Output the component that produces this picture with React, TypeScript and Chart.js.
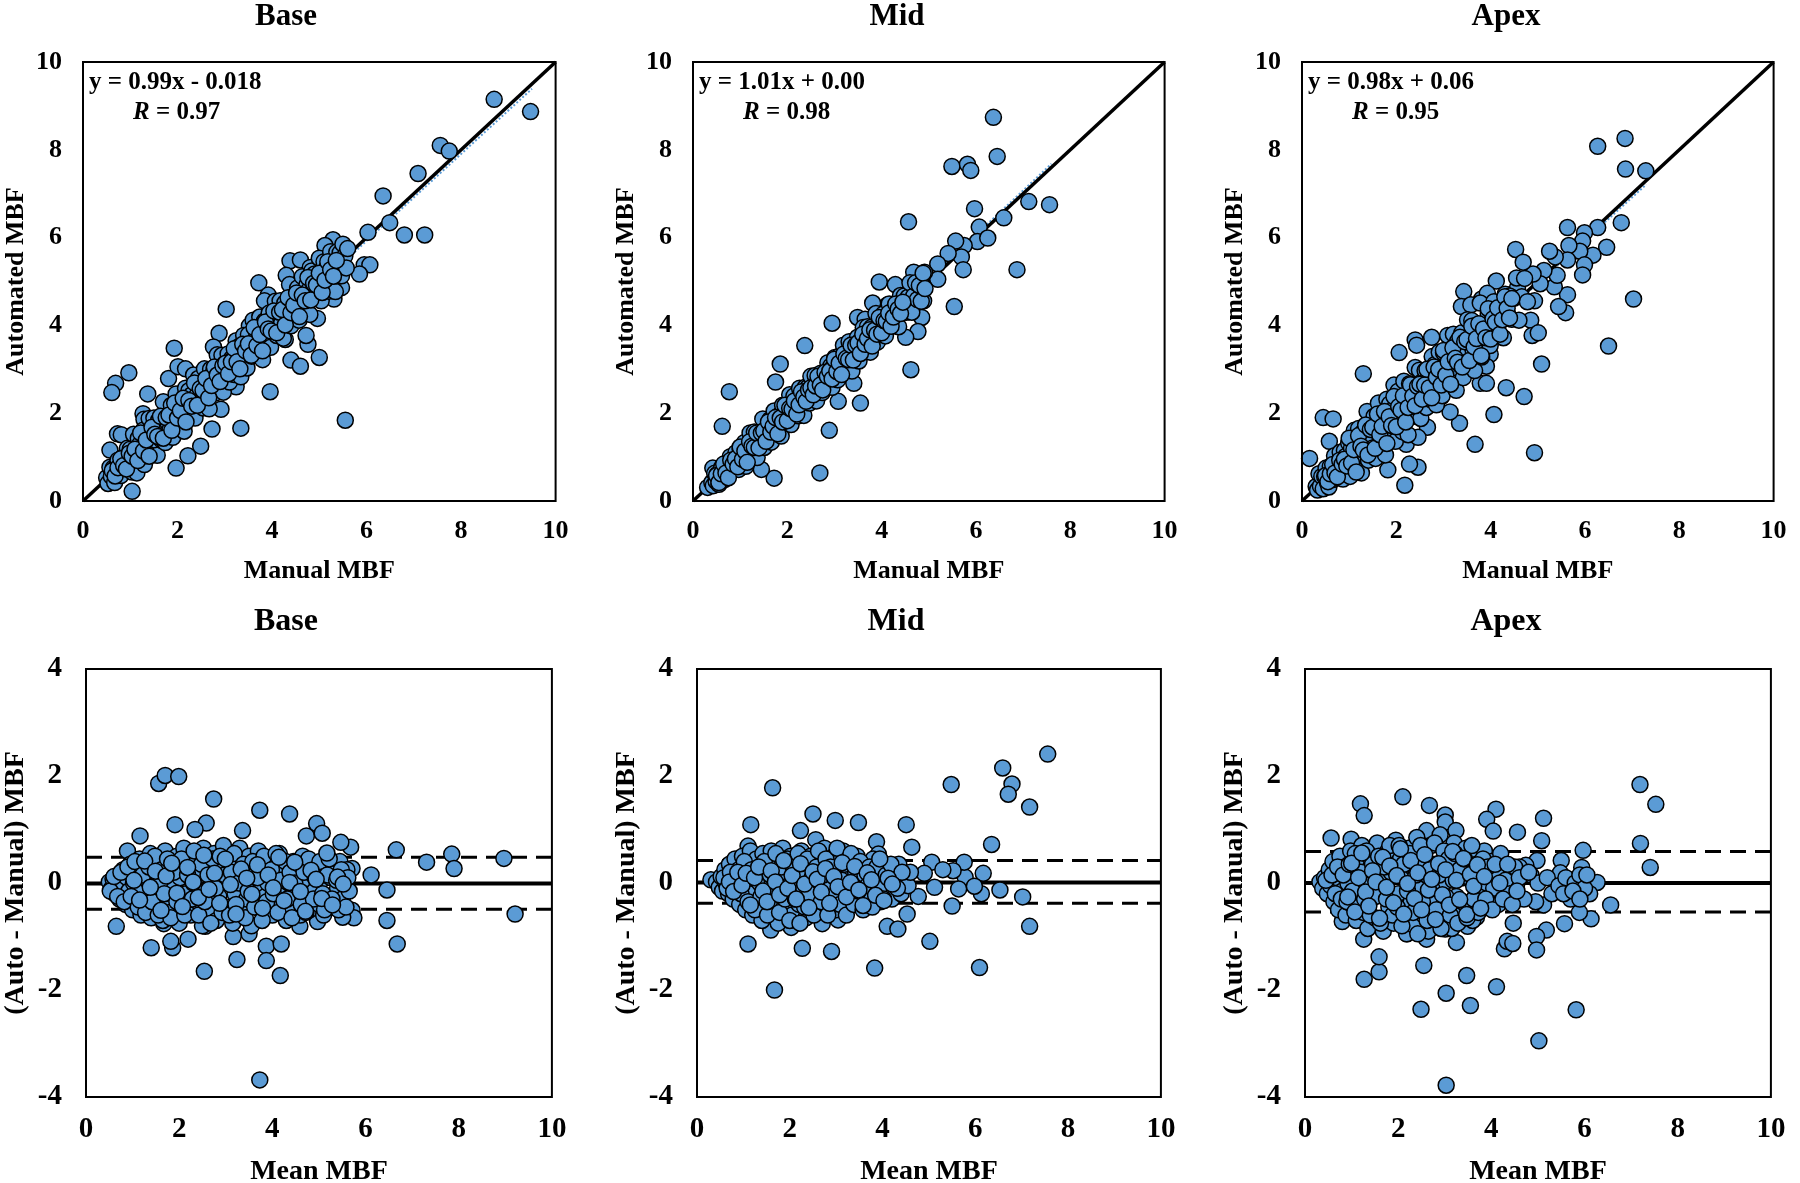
import React, { useEffect, useRef } from "react";
import { Chart, registerables } from "chart.js";

Chart.register(...registerables);

type P = [number, number];

const FONT = "'Liberation Serif', 'Times New Roman', Times, serif";
const BLUE = "#5B9BD5";

// ---------------- scatter: Base (Manual, Automated) ----------------
const baseScatter: P[] = [
  [8.7,9.15],[9.47,8.87],[7.56,8.1],[7.75,7.97],[7.09,7.46],[6.35,6.95],[6.49,6.34],[6.8,6.06],[7.23,6.06],[6.03,6.12],
  [5.95,5.38],[6.07,5.38],[5.85,5.17],[5.29,5.95],[5.12,5.82],[5.51,5.73],[4.38,5.47],[4.6,5.49],[4.81,5.32],[4.3,5.14],
  [3.72,4.97],[3.03,4.37],[5.0,3.27],[5.55,1.84],[3.96,2.49],[4.4,3.21],[4.6,3.07],[4.76,3.57],[3.34,1.66],[1.93,3.48],
  [0.97,2.92],[0.69,2.68],[0.61,2.47],[1.37,2.44],[2.88,3.82],[2.76,3.51],[1.97,0.75],[1.04,0.22],[0.57,1.16],[0.73,1.53],
  [0.81,1.51],[1.27,1.99],[1.29,1.86],[2.49,1.25],[2.22,1.03],[2.92,2.09],[2.73,1.64],[1.81,2.79],[2.01,3.06],[2.17,3.01],
  [2.57,2.55],[3.92,4.69],[3.84,4.56],[4.04,4.16],[3.52,3.99],[4.28,3.68],[3.36,3.21],[3.24,2.6],[5.31,4.6],[5.47,4.86],
  [5.39,5.12],[5.04,4.9],[4.96,4.16],[4.72,3.77],
  [0.5,0.53],[0.53,0.4],[0.57,0.77],[0.6,0.56],[0.64,0.75],[0.67,0.42],[0.7,0.77],[0.74,0.93],[0.77,0.67],[0.8,0.58],
  [0.84,0.99],[0.87,0.88],[0.9,0.76],[0.94,1.2],[0.97,0.91],[1.0,1.18],[1.04,0.66],[1.07,1.52],[1.1,1.07],[1.14,0.64],
  [1.17,1.43],[1.2,1.29],[1.24,1.03],[1.27,1.61],[1.3,0.83],[1.34,1.49],[1.37,1.28],[1.4,1.88],[1.44,1.11],[1.47,1.48],
  [1.5,1.89],[1.54,1.38],[1.57,1.04],[1.6,1.84],[1.64,1.71],[1.67,1.38],[1.7,2.26],[1.74,1.33],[1.77,1.88],[1.8,1.78],
  [1.84,1.62],[1.87,2.18],[1.9,1.45],[1.94,2.02],[1.97,2.44],[2.0,1.86],[2.04,1.68],[2.07,2.26],[2.1,2.12],[2.14,1.59],
  [2.17,2.57],[2.2,2.13],[2.24,2.51],[2.27,1.96],[2.3,2.42],[2.34,2.87],[2.37,1.89],[2.4,2.39],[2.44,2.79],[2.47,2.23],
  [2.5,2.66],[2.54,2.12],[2.57,3.01],[2.6,2.49],[2.64,2.7],[2.67,2.1],[2.7,3.0],[2.74,2.56],[2.77,2.98],[2.8,2.46],
  [2.84,3.33],[2.87,2.91],[2.9,2.64],[2.94,3.32],[2.97,2.48],[3.0,3.13],[3.04,2.99],[3.07,3.35],[3.1,2.71],[3.14,3.24],
  [3.17,3.22],[3.2,2.88],[3.24,3.65],[3.27,3.19],[3.3,3.52],[3.34,2.83],[3.37,3.5],[3.4,3.77],[3.44,3.25],[3.47,3.03],
  [3.5,3.79],[3.54,3.56],[3.57,3.3],[3.6,4.12],[3.64,3.52],[3.67,3.85],[3.7,3.32],[3.74,4.19],[3.77,3.74],[3.8,3.22],
  [3.84,4.1],[3.87,3.96],[3.9,3.69],[3.94,4.28],[3.97,3.5],[4.0,4.15],[4.04,3.95],[4.07,4.55],[4.1,3.77],[4.14,4.15],
  [4.17,4.56],[4.2,4.04],[4.24,3.71],[4.27,4.51],[4.3,4.37],[4.34,4.05],[4.37,4.93],[4.4,3.99],[4.44,4.55],[4.47,4.45],
  [4.5,4.28],[4.54,4.85],[4.57,4.12],[4.6,4.68],[4.64,5.11],[4.67,4.53],[4.7,4.34],[4.74,4.93],[4.77,4.79],[4.8,4.25],
  [4.84,5.24],[4.87,4.8],[4.9,5.17],[4.94,4.63],[4.97,5.09],[5.0,5.53],[5.04,4.56],[5.07,5.06],[5.1,5.45],[5.14,4.9],
  [5.17,5.33],[5.2,4.78],[5.24,5.68],[5.27,5.16],[5.3,5.36],[5.34,4.77],[5.37,5.67],[5.4,5.22],[5.44,5.65],[5.47,5.13],
  [5.5,5.85],[5.54,5.58],[5.57,5.31],[5.6,5.75],
  [0.62,0.69],[0.68,0.57],[0.74,0.76],[0.8,0.96],[0.86,0.81],[0.92,0.73],[0.98,1.09],[1.04,1.02],[1.1,1.18],[1.16,0.92],
  [1.22,1.55],[1.28,1.14],[1.34,1.39],[1.4,1.02],[1.46,1.68],[1.52,1.52],[1.58,1.47],[1.64,1.93],[1.7,1.43],[1.76,1.9],
  [1.82,1.96],[1.88,1.61],[1.94,2.23],[2.0,1.89],[2.06,2.06],[2.12,2.34],[2.18,1.8],[2.24,2.29],[2.3,2.16],[2.36,2.69],
  [2.42,2.18],[2.48,2.56],[2.54,2.52],[2.6,2.79],[2.66,2.35],[2.72,2.63],[2.78,3.05],[2.84,2.87],[2.9,2.72],[2.96,3.08],
  [3.02,3.14],[3.08,2.9],[3.14,3.17],[3.2,3.47],[3.26,3.17],[3.32,3.01],[3.38,3.57],[3.44,3.42],[3.5,3.58],[3.56,3.32],
  [3.62,3.95],[3.68,3.54],[3.74,3.79],[3.8,3.42],[3.86,4.08],[3.92,3.92],[3.98,3.87],[4.04,4.33],[4.1,3.83],[4.16,4.3],
  [4.22,4.36],[4.28,4.01],[4.34,4.63],[4.4,4.29],[4.46,4.46],[4.52,4.74],[4.58,4.2],[4.64,4.69],[4.7,4.56],[4.76,5.09],
  [4.82,4.58],[4.88,4.96],[4.94,4.92],[5.0,5.19],[5.06,4.75],[5.12,5.03],[5.18,5.45],[5.24,5.27],[5.3,5.12],[5.36,5.48],
];

// ---------------- scatter: Mid ----------------
const midScatter: P[] = [
  [6.37,8.74],[6.45,7.85],[5.49,7.62],[5.82,7.67],[5.89,7.53],[5.97,6.66],[4.57,6.36],[7.12,6.82],[7.56,6.75],[6.59,6.45],
  [6.87,5.27],[6.07,6.24],[6.03,5.91],[6.25,5.99],[5.75,5.82],[5.57,5.92],[5.69,5.56],[5.73,5.27],[5.41,5.64],[5.19,5.4],
  [5.19,5.05],[5.54,4.43],[3.95,4.99],[4.29,4.93],[4.91,5.21],[4.68,5.21],[4.75,4.77],[4.89,4.56],[4.85,4.18],[4.77,3.86],
  [4.51,3.73],[4.62,2.99],[2.95,4.05],[2.37,3.54],[1.85,3.12],[1.75,2.71],[0.77,2.49],[0.62,1.7],[2.89,1.61],[2.69,0.64],
  [1.72,0.52],[1.45,0.72],[3.55,2.23],[3.41,2.68],[3.08,2.27],[3.49,4.18],[3.65,4.14],[4.13,4.21],[0.31,0.31],[0.99,0.94],
  [0.42,0.75],[4.13,4.47],[3.81,4.51],
  [0.4,0.42],[0.43,0.35],[0.46,0.63],[0.49,0.45],[0.52,0.61],[0.55,0.38],[0.58,0.63],[0.61,0.77],[0.64,0.56],[0.67,0.49],
  [0.7,0.82],[0.73,0.74],[0.76,0.64],[0.79,1.01],[0.82,0.77],[0.85,0.93],[0.88,0.72],[0.91,1.1],[0.94,0.93],[0.97,0.72],
  [1.0,1.18],[1.03,1.09],[1.06,0.91],[1.09,1.33],[1.12,0.79],[1.15,1.26],[1.18,1.12],[1.21,1.55],[1.24,1.01],[1.27,1.28],
  [1.3,1.57],[1.33,1.22],[1.36,0.99],[1.39,1.56],[1.42,1.47],[1.45,1.25],[1.48,1.87],[1.51,1.22],[1.54,1.62],[1.57,1.56],
  [1.6,1.45],[1.63,1.85],[1.66,1.34],[1.69,1.75],[1.72,2.05],[1.75,1.65],[1.78,1.53],[1.81,1.94],[1.84,1.85],[1.87,1.48],
  [1.9,2.18],[1.93,1.88],[1.96,2.15],[1.99,1.77],[2.02,2.1],[2.05,2.42],[2.08,1.74],[2.11,2.1],[2.14,2.39],[2.17,2.0],
  [2.2,2.31],[2.23,1.94],[2.26,2.57],[2.29,2.21],[2.32,2.36],[2.35,1.95],[2.38,2.59],[2.41,2.28],[2.44,2.59],[2.47,2.23],
  [2.5,2.84],[2.53,2.56],[2.56,2.38],[2.59,2.86],[2.62,2.28],[2.65,2.74],[2.68,2.64],[2.71,2.91],[2.74,2.47],[2.77,2.84],
  [2.8,2.84],[2.83,2.61],[2.86,3.15],[2.89,2.83],[2.92,3.07],[2.95,2.59],[2.98,3.07],[3.01,3.27],[3.04,2.91],[3.07,2.76],
  [3.1,3.3],[3.13,3.14],[3.16,2.97],[3.19,3.55],[3.22,3.14],[3.25,3.38],[3.28,3.01],[3.31,3.63],[3.34,3.32],[3.37,2.96],
  [3.4,3.58],[3.43,3.49],[3.46,3.31],[3.49,3.73],[3.52,3.19],[3.55,3.66],[3.58,3.52],[3.61,3.95],[3.64,3.41],[3.67,3.68],
  [3.7,3.97],[3.73,3.62],[3.76,3.39],[3.79,3.96],[3.82,3.87],[3.85,3.65],[3.88,4.27],[3.91,3.62],[3.94,4.02],[3.97,3.96],
  [4.0,3.85],[4.04,4.26],[4.08,3.76],[4.12,4.18],[4.16,4.49],[4.2,4.1],[4.24,3.99],[4.28,4.41],[4.32,4.33],[4.36,3.97],
  [4.4,4.68],[4.44,4.39],[4.48,4.67],[4.52,4.3],[4.56,4.64],[4.6,4.97],[4.64,4.3],[4.68,4.67],[4.72,4.97],[4.76,4.59],
  [4.8,4.91],[4.84,4.55],[4.88,5.19],[4.92,4.84],
  [0.5,0.58],[0.55,0.42],[0.6,0.62],[0.65,0.84],[0.7,0.64],[0.75,0.53],[0.8,0.93],[0.85,0.84],[0.9,0.96],[0.95,0.78],
  [1.0,1.23],[1.05,0.95],[1.1,1.14],[1.15,0.88],[1.2,1.35],[1.25,1.25],[1.3,1.22],[1.35,1.55],[1.4,1.21],[1.45,1.55],
  [1.5,1.6],[1.55,1.36],[1.6,1.8],[1.65,1.57],[1.7,1.7],[1.75,1.9],[1.8,1.53],[1.85,1.89],[1.9,1.8],[1.95,2.18],
  [2.0,1.83],[2.05,2.11],[2.1,2.09],[2.15,2.28],[2.2,1.98],[2.25,2.19],[2.3,2.49],[2.35,2.37],[2.4,2.27],[2.45,2.53],
  [2.5,2.58],[2.55,2.42],[2.6,2.62],[2.65,2.84],[2.7,2.64],[2.75,2.53],[2.8,2.93],[2.85,2.84],[2.9,2.96],[2.95,2.78],
  [3.0,3.23],[3.05,2.95],[3.1,3.14],[3.15,2.88],[3.2,3.35],[3.25,3.25],[3.3,3.22],[3.35,3.55],[3.4,3.21],[3.45,3.55],
  [3.5,3.6],[3.55,3.36],[3.6,3.8],[3.65,3.57],[3.7,3.7],[3.75,3.9],[3.8,3.53],[3.85,3.89],[3.9,3.8],[3.95,4.18],
  [4.0,3.83],[4.05,4.11],[4.1,4.09],[4.15,4.28],[4.2,3.98],[4.25,4.19],[4.3,4.49],[4.35,4.37],[4.4,4.27],[4.45,4.53],
];

// ---------------- scatter: Apex ----------------
const apexScatter: P[] = [
  [6.27,8.08],[6.85,8.26],[6.86,7.56],[7.29,7.52],[6.77,6.34],[7.03,4.6],[6.5,3.53],[6.46,5.78],[6.17,5.6],[6.27,6.23],
  [5.99,6.11],[5.95,5.92],[5.89,5.69],[5.99,5.38],[5.95,5.15],[5.63,6.23],[5.66,5.82],[5.63,5.49],[5.63,4.7],[5.59,4.29],
  [5.44,4.43],[5.37,5.56],[5.25,5.69],[5.35,4.88],[5.41,5.14],[5.13,5.25],[5.05,4.95],[4.9,5.17],[4.53,5.73],[4.69,5.44],
  [4.12,5.01],[4.37,4.69],[4.57,4.86],[4.93,4.56],[4.85,4.12],[4.88,3.77],[5.01,3.83],[5.08,3.12],[4.93,1.1],[4.33,2.58],
  [4.71,2.38],[4.07,1.97],[3.67,1.29],[3.34,1.77],[3.78,2.68],[3.91,2.68],[3.99,3.34],[3.91,3.07],[3.43,4.77],[3.38,4.43],
  [3.58,4.47],[3.81,4.6],[3.93,4.73],[2.75,3.73],[2.4,3.67],[2.43,3.55],[3.14,3.55],[2.06,3.38],[1.3,2.9],[0.45,1.9],
  [0.66,1.87],[0.58,1.36],[0.16,0.97],[2.18,0.36],[2.46,0.77],[2.28,0.84],[1.82,0.71],[3.14,2.03],[2.66,1.68],[2.96,2.38],
  [2.21,1.29],[2.46,1.45],
  [0.3,0.33],[0.33,0.25],[0.36,0.62],[0.39,0.34],[0.42,0.56],[0.45,0.28],[0.48,0.56],[0.51,0.75],[0.54,0.42],[0.57,0.32],
  [0.6,0.79],[0.63,0.65],[0.66,0.49],[0.69,1.03],[0.72,0.64],[0.75,0.87],[0.78,0.53],[0.81,1.11],[0.84,0.82],[0.87,0.5],
  [0.9,1.15],[0.93,1.02],[0.96,0.76],[0.99,1.32],[1.02,0.56],[1.05,1.2],[1.08,0.99],[1.11,1.61],[1.14,0.79],[1.17,1.18],
  [1.2,1.65],[1.23,1.04],[1.26,0.64],[1.29,1.57],[1.32,1.4],[1.35,1.01],[1.38,2.04],[1.41,0.93],[1.44,1.57],[1.47,1.44],
  [1.5,1.21],[1.53,1.93],[1.56,0.97],[1.59,1.69],[1.62,2.23],[1.65,1.47],[1.68,1.21],[1.71,1.96],[1.74,1.77],[1.77,1.05],
  [1.8,2.32],[1.83,1.74],[1.86,2.21],[1.89,1.49],[1.92,2.08],[1.95,2.64],[1.98,1.36],[2.01,2.0],[2.04,2.5],[2.07,1.76],
  [2.1,2.31],[2.13,1.58],[2.16,2.73],[2.19,2.05],[2.22,2.3],[2.25,1.51],[2.28,2.67],[2.31,2.08],[2.34,2.61],[2.37,1.93],
  [2.4,3.04],[2.43,2.48],[2.46,2.12],[2.49,2.98],[2.52,1.88],[2.55,2.72],[2.58,2.51],[2.61,2.97],[2.64,2.13],[2.67,2.8],
  [2.7,2.77],[2.73,2.31],[2.76,3.29],[2.79,2.69],[2.82,3.11],[2.85,2.19],[2.88,3.05],[2.91,3.39],[2.94,2.69],[2.97,2.4],
  [3.0,3.38],[3.03,3.06],[3.06,2.71],[3.09,3.77],[3.12,2.96],[3.15,3.38],[3.18,2.69],[3.21,3.8],[3.24,3.2],[3.27,2.52],
  [3.3,3.64],[3.33,3.45],[3.36,3.09],[3.39,3.83],[3.42,2.81],[3.45,3.65],[3.48,3.36],[3.51,4.13],[3.54,3.11],[3.57,3.58],
  [3.6,4.11],[3.63,3.42],[3.66,2.97],[3.69,4.0],[3.72,3.81],[3.75,3.37],[3.78,4.51],[3.81,3.28],[3.84,3.98],[3.87,3.84],
  [3.91,3.69],[3.95,4.26],[3.99,3.54],[4.03,4.11],[4.07,4.54],[4.11,3.97],[4.15,3.79],[4.19,4.38],[4.23,4.25],[4.27,3.72],
  [4.31,4.71],[4.35,4.28],[4.4,4.67],[4.45,4.14],[4.5,4.62],[4.55,5.08],[4.6,4.12],[4.66,4.65],[4.72,5.07],[4.78,4.54],
  [0.5,0.58],[0.55,0.44],[0.6,0.62],[0.65,0.83],[0.7,0.64],[0.75,0.55],[0.8,0.93],[0.85,0.84],[0.9,0.95],[0.95,0.8],
  [1.0,1.43],[1.05,0.87],[1.1,1.17],[1.15,0.66],[1.2,1.49],[1.25,1.25],[1.3,1.16],[1.35,1.73],[1.4,1.05],[1.45,1.63],
  [1.5,1.68],[1.55,1.2],[1.6,1.98],[1.65,1.51],[1.7,1.7],[1.75,2.04],[1.8,1.31],[1.85,1.92],[1.9,1.72],[1.95,2.38],
  [2.0,1.69],[2.05,2.15],[2.1,2.07],[2.15,2.4],[2.2,1.8],[2.25,2.13],[2.3,2.65],[2.35,2.39],[2.4,2.17],[2.45,2.61],
  [2.5,2.66],[2.55,2.32],[2.6,2.64],[2.65,3.0],[2.7,2.58],[2.75,2.35],[2.8,3.05],[2.85,2.82],[2.9,3.0],[2.95,2.64],
  [3.0,3.43],[3.05,2.87],[3.1,3.17],[3.15,2.66],[3.2,3.49],[3.25,3.25],[3.3,3.16],[3.35,3.73],[3.4,3.05],[3.45,3.63],
  [3.5,3.68],[3.55,3.2],[3.6,3.98],[3.65,3.51],[3.7,3.7],[3.75,4.04],[3.8,3.31],[3.85,3.92],[3.9,3.72],[3.95,4.38],
  [4.0,3.69],[4.05,4.15],[4.1,4.07],[4.15,4.4],[4.2,3.8],[4.25,4.13],[4.3,4.65],[4.35,4.39],[4.4,4.17],[4.45,4.61],
];

// ---------------- Bland-Altman: Base (Mean, Auto - Manual) ----------------
const baseBA: P[] = [
  [1.56,1.86],[1.7,2.01],[1.99,1.99],[2.74,1.57],[3.73,1.36],[4.37,1.29],[1.91,1.09],[2.58,1.12],[2.34,1.0],[3.36,0.98],
  [4.73,0.88],[4.95,1.11],[5.07,0.93],[1.16,0.88],[0.89,0.6],[6.66,0.62],[7.31,0.39],[7.85,0.54],[7.9,0.27],[8.97,0.46],
  [9.21,-0.58],[6.12,0.15],[6.46,-0.13],[6.46,-0.7],[6.68,-1.14],[5.68,0.67],[5.47,0.76],[5.71,0.27],[5.71,-0.51],[5.75,-0.65],
  [5.51,-0.64],[0.65,-0.81],[1.4,-1.21],[1.86,-1.21],[1.82,-1.09],[2.19,-1.05],[3.24,-1.43],[2.54,-1.65],[3.87,-1.18],[3.87,-1.45],
  [4.19,-1.14],[4.17,-1.73],[3.73,-3.68],[3.5,-0.95],[3.16,-1.0],[4.97,-0.72],[4.59,-0.81],[2.56,-0.81],[1.67,-0.76],
  [0.5,0.02],[0.55,-0.1],[0.58,0.08],[0.62,-0.2],[0.65,0.0],[0.7,0.15],[0.72,-0.3],[0.78,-0.05],[0.8,0.25],[0.85,-0.4],
  [0.88,0.1],[0.92,-0.15],[0.95,0.35],[1.0,-0.5],[1.02,0.0],[1.08,0.2],[1.1,-0.3],[1.15,0.45],[1.18,-0.6],[1.2,-0.1],
  [1.25,0.3],[1.3,-0.4],[1.32,0.05],[1.38,0.55],[1.4,-0.65],[1.45,-0.2],[1.5,0.2],[1.52,-0.45],[1.58,0.4],[1.6,0.0],
  [1.65,-0.7],[1.7,0.6],[1.72,-0.3],[1.78,0.15],[1.8,-0.55],[1.85,0.35],[1.9,-0.1],[1.95,0.5],[2.0,-0.75],[2.02,0.1],
  [2.08,-0.4],[2.1,0.65],[2.15,-0.2],[2.2,0.3],[2.25,-0.6],[2.3,0.0],[2.35,0.5],[2.4,-0.35],[2.45,0.2],[2.5,-0.8],
  [2.52,0.65],[2.58,-0.15],[2.6,0.35],[2.65,-0.5],[2.7,0.05],[2.75,0.55],[2.8,-0.7],[2.85,-0.25],[2.9,0.25],[2.95,0.7],
  [3.0,-0.45],[3.05,0.0],[3.1,0.45],[3.15,-0.75],[3.2,-0.2],[3.25,0.3],[3.3,0.65],[3.35,-0.55],[3.4,0.05],[3.45,-0.3],
  [3.5,0.5],[3.55,-0.8],[3.6,0.2],[3.65,-0.1],[3.7,0.6],[3.75,-0.5],[3.8,0.3],[3.85,-0.25],[3.9,0.0],[3.95,0.45],
  [4.0,-0.6],[4.05,0.15],[4.1,-0.35],[4.15,0.55],[4.2,-0.1],[4.25,0.3],[4.3,-0.7],[4.35,0.0],[4.4,-0.45],[4.45,0.4],
  [4.5,-0.2],[4.55,0.15],[4.6,-0.6],[4.65,0.5],[4.7,-0.3],[4.75,0.05],[4.8,-0.5],[4.85,0.35],[4.9,-0.15],[4.95,0.2],
  [5.0,-0.4],[5.05,0.05],[5.1,-0.6],[5.15,0.3],[5.2,-0.25],[5.25,0.1],[5.3,-0.45],[5.35,0.2],[5.4,-0.1],[5.45,0.4],
  [5.5,-0.3],[5.55,0.05],[5.6,0.25],[5.65,-0.15],
  [0.52,-0.15],[0.6,0.12],[0.68,-0.25],[0.75,0.2],[0.82,-0.35],[0.9,0.3],[0.97,-0.25],[1.05,0.4],[1.12,-0.45],[1.22,0.15],
  [1.28,-0.55],[1.35,0.3],[1.42,-0.35],[1.48,0.5],[1.55,-0.6],[1.62,0.25],[1.68,-0.2],[1.75,0.45],[1.82,-0.65],[1.88,0.2],
  [1.95,-0.35],[2.05,0.45],[2.12,-0.6],[2.18,0.15],[2.28,-0.3],[2.32,0.6],[2.42,-0.6],[2.48,0.35],[2.55,-0.35],[2.62,0.15],
  [2.68,-0.75],[2.72,0.45],[2.78,-0.1],[2.88,0.5],[2.92,-0.55],[2.98,0.15],[3.08,-0.6],[3.12,0.2],[3.18,0.55],[3.22,-0.4],
  [3.28,0.0],[3.38,0.35],[3.42,-0.65],[3.48,-0.15],[3.58,0.4],[3.62,-0.45],[3.68,0.1],[3.78,-0.7],[3.82,0.5],[3.88,-0.35],
  [3.98,0.25],[4.02,-0.2],[4.08,0.55],[4.12,-0.55],[4.18,0.05],[4.28,0.4],[4.32,-0.3],[4.38,0.2],[4.42,-0.65],[4.48,0.0],
  [4.58,0.35],[4.62,-0.4],[4.68,0.2],[4.72,-0.55],[4.78,0.45],[4.88,-0.3],[4.92,0.1],[5.02,0.4],[5.08,-0.2],[5.12,-0.5],
  [5.18,0.15],[5.22,0.45],[5.28,-0.3],[5.38,0.05],[5.42,-0.5],[5.48,0.25],[5.58,-0.45],[5.62,0.1],
  [1.03,0.05],[1.15,-0.32],[1.26,0.41],[1.38,-0.08],[1.49,0.22],[1.61,-0.51],[1.72,0.13],[1.84,0.37],[1.95,-0.19],[2.07,-0.44],
  [2.18,0.29],[2.3,0.02],[2.41,-0.27],[2.53,0.52],[2.64,-0.12],[2.76,0.18],[2.87,-0.38],[2.99,0.45],[3.1,-0.03],[3.22,-0.58],
  [3.33,0.26],[3.45,0.09],[3.56,-0.21],[3.68,0.34],[3.79,-0.47],[3.91,0.15],[4.02,-0.09],[4.14,0.48],[4.25,-0.33],[4.37,0.01],
  [4.48,0.39],[4.6,-0.16],[4.71,-0.53],[4.83,0.24],[4.94,0.07],[5.06,-0.29],[5.17,0.56],[5.29,-0.41],[5.4,0.11],[5.52,-0.02],
];

// ---------------- Bland-Altman: Mid ----------------
const midBA: P[] = [
  [7.56,2.41],[6.59,2.15],[6.79,1.85],[6.71,1.66],[7.17,1.42],[5.48,1.84],[1.63,1.78],[2.5,1.29],[2.98,1.17],[3.48,1.13],
  [4.51,1.09],[1.16,1.09],[2.23,0.98],[4.63,0.67],[6.35,0.72],[3.87,0.77],[3.91,0.54],[1.1,0.69],[2.56,0.81],[6.53,-0.13],
  [7.02,-0.26],[7.17,-0.81],[6.17,0.18],[6.13,-0.2],[5.78,0.11],[5.76,0.39],[5.52,0.23],[5.5,-0.43],[5.64,-0.11],[5.98,-0.06],
  [5.02,-1.09],[4.1,-0.81],[4.33,-0.86],[4.53,-0.58],[3.83,-1.59],[6.09,-1.58],[1.67,-2.0],[1.1,-1.14],[2.27,-1.22],[2.9,-1.28],
  [2.7,-0.76],[3.04,-0.69],[2.03,-0.83],[1.59,-0.88],[0.3,0.06],[5.06,0.39],[5.3,0.25],[5.12,-0.08],[4.77,-0.25],[4.9,0.18],
  [0.42,0.02],[0.48,-0.08],[0.52,0.12],[0.55,-0.15],[0.6,0.25],[0.62,0.0],[0.68,-0.2],[0.7,0.35],[0.75,0.1],[0.78,-0.3],
  [0.82,0.45],[0.85,-0.05],[0.9,0.25],[0.92,-0.4],[0.98,0.5],[1.0,0.05],[1.05,-0.5],[1.08,0.3],[1.12,-0.2],[1.15,0.6],
  [1.2,-0.6],[1.22,0.1],[1.28,0.45],[1.3,-0.35],[1.35,0.0],[1.4,-0.7],[1.42,0.55],[1.48,-0.15],[1.5,0.3],[1.55,-0.5],
  [1.6,0.6],[1.62,0.05],[1.68,-0.35],[1.72,0.4],[1.75,-0.75],[1.8,-0.05],[1.85,0.65],[1.88,-0.45],[1.92,0.2],[1.98,-0.2],
  [2.02,0.5],[2.05,-0.6],[2.1,0.05],[2.15,0.35],[2.2,-0.4],[2.25,0.6],[2.3,-0.1],[2.35,-0.65],[2.4,0.25],[2.45,0.5],
  [2.5,-0.3],[2.55,0.05],[2.6,-0.55],[2.65,0.4],[2.7,-0.15],[2.75,0.65],[2.8,-0.4],[2.85,0.15],[2.9,-0.05],[2.95,0.5],
  [3.0,-0.5],[3.05,0.25],[3.1,-0.2],[3.15,0.6],[3.2,-0.45],[3.25,0.1],[3.3,0.4],[3.35,-0.25],[3.4,0.05],[3.45,0.5],
  [3.5,-0.4],[3.55,0.2],[3.6,-0.1],[3.65,0.35],[3.7,-0.3],[3.75,0.1],[3.8,0.45],[3.85,-0.2],[3.9,0.2],[3.95,-0.35],
  [4.0,0.05],[4.05,0.3],[4.1,-0.15],[4.15,0.15],[4.2,-0.3],[4.25,0.25],[4.3,0.0],[4.35,0.35],[4.4,-0.2],[4.45,0.1],
  [4.55,-0.05],[4.6,0.2],
  [0.58,0.1],[0.65,-0.1],[0.72,0.2],[0.8,-0.15],[0.88,0.1],[0.95,-0.2],[1.02,0.4],[1.1,-0.35],[1.18,0.25],[1.25,-0.5],
  [1.32,0.2],[1.38,-0.25],[1.45,0.4],[1.52,-0.6],[1.58,0.15],[1.65,-0.2],[1.7,0.55],[1.78,-0.55],[1.82,0.3],[1.9,-0.3],
  [1.95,0.45],[2.0,-0.7],[2.08,0.25],[2.12,-0.3],[2.18,0.55],[2.22,-0.75],[2.28,0.15],[2.32,-0.45],[2.38,0.45],[2.42,-0.2],
  [2.48,0.1],[2.52,-0.6],[2.58,0.3],[2.62,0.6],[2.68,-0.35],[2.72,0.15],[2.78,0.45],[2.82,-0.6],[2.88,0.3],[2.92,-0.25],
  [2.98,0.1],[3.02,0.65],[3.08,-0.4],[3.12,0.05],[3.18,0.35],[3.22,-0.6],[3.28,-0.1],[3.32,0.55],[3.38,-0.4],[3.42,0.2],
  [3.48,-0.15],[3.52,0.4],[3.58,-0.5],[3.62,0.15],[3.68,-0.05],[3.72,0.3],[3.78,-0.45],[3.88,0.3],[3.92,-0.1],[4.02,-0.3],
  [4.08,0.15],[4.18,0.35],[4.22,0.05],[4.32,-0.1],[4.42,0.2],
  [0.7,0.02],[0.79,-0.16],[0.88,0.2],[0.97,-0.04],[1.06,0.18],[1.15,-0.41],[1.24,0.1],[1.33,0.3],[1.42,-0.15],[1.51,-0.35],
  [1.6,0.23],[1.69,0.02],[1.78,-0.22],[1.87,0.42],[1.96,-0.1],[2.05,0.14],[2.14,-0.3],[2.23,0.36],[2.32,-0.02],[2.41,-0.46],
  [2.5,0.21],[2.59,0.07],[2.68,-0.17],[2.77,0.27],[2.86,-0.38],[2.95,0.12],[3.04,-0.07],[3.13,0.38],[3.22,-0.26],[3.31,0.01],
  [3.4,0.31],[3.49,-0.13],[3.58,-0.42],[3.67,0.19],[3.76,0.06],[3.85,-0.23],[3.94,0.45],[4.03,-0.33],[4.12,0.09],[4.21,-0.02],
];

// ---------------- Bland-Altman: Apex ----------------
const apexBA: P[] = [
  [7.19,1.84],[7.53,1.47],[7.2,0.74],[7.41,0.29],[2.1,1.61],[1.19,1.48],[1.27,1.26],[2.67,1.45],[3.01,1.27],[3.01,1.14],
  [4.1,1.38],[3.9,1.19],[4.04,0.97],[4.56,0.95],[5.12,1.21],[5.08,0.79],[5.97,0.61],[0.56,0.84],[0.99,0.82],[2.61,0.98],
  [3.24,0.98],[6.56,-0.41],[6.14,-0.67],[5.89,-0.55],[6.27,0.01],[6.11,-0.2],[5.57,-0.76],[5.18,-0.88],[4.97,-1.0],[4.97,-1.25],
  [4.28,-1.23],[4.34,-1.09],[4.46,-1.13],[4.47,-0.75],[5.12,-0.41],[1.27,-1.8],[1.59,-1.66],[1.59,-1.38],[1.26,-1.05],[2.55,-1.54],
  [2.49,-2.36],[3.03,-2.06],[3.55,-2.29],[3.47,-1.73],[4.11,-1.94],[5.82,-2.37],[5.02,-2.95],[3.03,-3.78],[3.25,-1.11],[2.61,-1.05],
  [2.19,-0.95],[3.49,-0.81],[3.68,-0.64],[3.01,-0.86],[0.8,-0.72],[5.5,0.42],[5.48,0.19],[5.94,0.29],[4.98,0.42],[4.74,0.33],
  [4.54,-0.04],[4.18,-0.25],
  [4.6,0.3],[4.85,0.15],[5.0,0.0],[5.2,0.1],[5.3,-0.2],[5.45,-0.05],[5.6,0.1],[5.7,-0.3],[5.8,0.0],[5.9,0.15],
  [6.0,-0.1],[6.05,0.15],[4.95,-0.35],[5.55,-0.2],[5.75,-0.15],[5.9,-0.3],
  [0.32,0.02],[0.38,-0.1],[0.42,0.1],[0.48,-0.2],[0.52,0.25],[0.55,-0.05],[0.6,0.4],[0.62,-0.35],[0.68,0.1],[0.72,-0.5],
  [0.75,0.5],[0.8,-0.15],[0.85,0.3],[0.88,-0.6],[0.92,0.0],[0.98,0.6],[1.0,-0.4],[1.05,0.2],[1.1,-0.7],[1.12,0.45],
  [1.18,-0.2],[1.22,0.7],[1.25,-0.55],[1.3,0.1],[1.35,-0.85],[1.38,0.5],[1.42,-0.3],[1.48,0.25],[1.5,-0.65],[1.55,0.75],
  [1.6,-0.1],[1.65,0.4],[1.68,-0.9],[1.72,0.05],[1.78,0.6],[1.8,-0.45],[1.85,0.2],[1.9,-0.75],[1.95,0.8],[2.0,-0.2],
  [2.05,0.45],[2.1,-0.6],[2.15,0.1],[2.18,-0.95],[2.22,0.65],[2.28,-0.35],[2.3,0.3],[2.35,-0.8],[2.4,0.85],[2.45,-0.1],
  [2.5,0.5],[2.55,-0.6],[2.6,0.15],[2.65,-0.9],[2.7,0.7],[2.75,-0.3],[2.8,0.35],[2.85,-0.7],[2.9,0.9],[2.95,-0.05],
  [3.0,0.5],[3.05,-0.5],[3.1,0.2],[3.15,-0.85],[3.2,0.75],[3.25,-0.25],[3.3,0.4],[3.35,-0.6],[3.4,0.1],[3.45,0.65],
  [3.5,-0.4],[3.55,0.25],[3.6,-0.7],[3.65,0.5],[3.7,-0.15],[3.75,0.3],[3.8,-0.45],[3.85,0.6],[3.9,0.0],[3.95,-0.3],
  [4.0,0.4],[4.05,-0.1],[4.1,0.2],[4.15,-0.4],[4.2,0.55],[4.3,0.05],[4.4,-0.2],[4.5,0.3],[4.6,0.1],[4.7,-0.3],[4.8,0.2],
  [0.45,0.05],[0.58,0.15],[0.65,-0.2],[0.7,0.3],[0.78,-0.3],[0.82,0.15],[0.9,-0.35],[0.95,0.35],[1.02,-0.15],[1.08,0.55],
  [1.15,-0.45],[1.2,0.2],[1.28,-0.3],[1.32,0.6],[1.4,-0.6],[1.45,0.35],[1.52,-0.25],[1.58,0.5],[1.62,-0.75],[1.7,0.3],
  [1.75,-0.3],[1.82,0.7],[1.88,-0.6],[1.92,0.25],[1.98,-0.45],[2.02,0.7],[2.08,-0.8],[2.12,0.35],[2.2,-0.15],[2.25,0.55],
  [2.32,-0.55],[2.38,0.15],[2.42,-0.95],[2.48,0.7],[2.52,-0.35],[2.58,0.4],[2.62,-0.7],[2.68,0.25],[2.72,-0.1],[2.78,0.75],
  [2.82,-0.5],[2.88,0.15],[2.92,-0.85],[2.98,0.6],[3.02,-0.25],[3.08,0.45],[3.12,-0.6],[3.18,0.05],[3.22,0.55],[3.28,-0.75],
  [3.32,0.25],[3.38,-0.35],[3.42,0.45],[3.48,-0.65],[3.52,0.1],[3.58,0.7],[3.62,-0.3],[3.68,0.35],[3.72,-0.55],[3.78,0.15],
  [3.82,0.45],[3.88,-0.3],[3.92,0.3],[4.02,-0.5],[4.08,0.35],[4.18,0.0],[4.25,-0.3],[4.35,0.35],[4.45,-0.4],[4.55,-0.15],
  [0.92,-0.26],[1.0,0.37],[1.07,-0.54],[1.15,0.1],[1.22,0.56],[1.3,-0.17],[1.37,-0.43],[1.45,0.23],[1.52,0.02],[1.6,-0.66],
  [1.67,0.48],[1.75,-0.08],[1.82,0.32],[1.9,-0.37],[1.97,0.14],[2.05,0.64],[2.12,-0.58],[2.2,-0.01],[2.27,0.42],[2.35,-0.29],
  [2.42,0.19],[2.5,-0.5],[2.57,0.53],[2.65,-0.13],[2.72,0.07],[2.8,-0.68],[2.87,0.36],[2.95,-0.22],[3.02,0.25],[3.1,-0.41],
  [3.17,0.59],[3.25,0.05],[3.32,-0.31],[3.4,0.46],[3.47,-0.59],[3.55,0.16],[3.62,-0.06],[3.7,0.34],[3.77,-0.47],[3.85,0.12],
];

// ---------------- reference lines ----------------
const identityLine: P[] = [[0, 0], [10, 10]];
const baseTrend: P[] = [[0.45, 0.43], [9.5, 9.39]];
const midTrend: P[] = [[0.3, 0.3], [7.6, 7.68]];
const apexTrend: P[] = [[0.15, 0.21], [7.3, 7.21]];

const baLineX: [number, number] = [0, 10];
const baseLimits = [-0.01, 0.48, -0.49]; // bias, upper LoA, lower LoA
const midLimits = [0.01, 0.42, -0.38];
const apexLimits = [0.0, 0.59, -0.54];

const titles = ["Base", "Mid", "Apex"];
const equations = ["y = 0.99x - 0.018", "y = 1.01x + 0.00", "y = 0.98x + 0.06"];
const rValues = ["0.97", "0.98", "0.95"];

interface LineSpec { data: P[]; color: string; width: number; dash: number[]; }

interface Spec {
  plotLeft: number; plotRight: number; plotTop: number; plotBottom: number;
  canvasTop: number; canvasBottom: number;
  title: string; titleX: number; titleY: number; titleSize: number;
  xTitle: string; yTitle: string; axisTitleSize: number; axisTitleLH: number; yTitlePad: number;
  tickSize: number; yTickPad: number; xTickPad: number;
  yMin: number; yMax: number;
  points: P[]; lines: LineSpec[];
  eq?: string; r?: string;
}

const toXY = (d: P[]) => d.map(([x, y]) => ({ x, y }));
const hLine = (y: number): P[] => [[baLineX[0], y], [baLineX[1], y]];

function baLines(lim: number[]): LineSpec[] {
  return [
    { data: hLine(lim[0]), color: "#000", width: 4, dash: [] },
    { data: hLine(lim[1]), color: "#000", width: 3, dash: [16, 9] },
    { data: hLine(lim[2]), color: "#000", width: 3, dash: [16, 9] },
  ];
}

function scatterLines(trend: P[]): LineSpec[] {
  return [
    { data: identityLine, color: "#000", width: 3.5, dash: [] },
    { data: trend, color: BLUE, width: 2, dash: [2, 2] },
  ];
}

const topRow = { plotTop: 62, plotBottom: 501, canvasTop: 0, canvasBottom: 584, titleY: 16.5, titleSize: 31,
  axisTitleSize: 26, axisTitleLH: 1, yTitlePad: 3, tickSize: 26, yTickPad: 21, xTickPad: 14.4, yMin: 0, yMax: 10 };
const botRow = { plotTop: 669, plotBottom: 1097, canvasTop: 605, canvasBottom: 1183, titleY: 621.5, titleSize: 32,
  axisTitleSize: 28, axisTitleLH: 0.8, yTitlePad: 1.8, tickSize: 29, yTickPad: 24, xTickPad: 15.6, yMin: -4, yMax: 4 };

const specs: Spec[] = [
  { ...topRow, plotLeft: 83, plotRight: 563, title: titles[0], titleX: 286, xTitle: "Manual MBF", yTitle: "Automated MBF",
    points: baseScatter, lines: scatterLines(baseTrend), eq: equations[0], r: rValues[0] },
  { ...topRow, plotLeft: 693, plotRight: 1172, title: titles[1], titleX: 897, xTitle: "Manual MBF", yTitle: "Automated MBF",
    points: midScatter, lines: scatterLines(midTrend), eq: equations[1], r: rValues[1] },
  { ...topRow, plotLeft: 1302, plotRight: 1781, title: titles[2], titleX: 1506, xTitle: "Manual MBF", yTitle: "Automated MBF",
    points: apexScatter, lines: scatterLines(apexTrend), eq: equations[2], r: rValues[2] },
  { ...botRow, plotLeft: 86, plotRight: 562, title: titles[0], titleX: 286, xTitle: "Mean MBF", yTitle: "(Auto - Manual) MBF",
    points: baseBA, lines: baLines(baseLimits) },
  { ...botRow, plotLeft: 697, plotRight: 1171, title: titles[1], titleX: 896, xTitle: "Mean MBF", yTitle: "(Auto - Manual) MBF",
    points: midBA, lines: baLines(midLimits) },
  { ...botRow, plotLeft: 1305, plotRight: 1781, title: titles[2], titleX: 1506, xTitle: "Mean MBF", yTitle: "(Auto - Manual) MBF",
    points: apexBA, lines: baLines(apexLimits) },
];

const Y_AXIS_W = 83;
const RIGHT_PAD = 20;

function Panel({ spec }: { spec: Spec }) {
  const ref = useRef<HTMLCanvasElement>(null);
  const canvasLeft = spec.plotLeft - Y_AXIS_W;
  const width = spec.plotRight - canvasLeft + RIGHT_PAD;
  const height = spec.canvasBottom - spec.canvasTop;

  useEffect(() => {
    const canvas = ref.current;
    if (!canvas) return;
    const xAxisH = spec.canvasBottom - spec.plotBottom;
    const tickFont = { family: FONT, size: spec.tickSize, weight: "bold" as const };
    const axisTitleFont = { family: FONT, size: spec.axisTitleSize, weight: "bold" as const, lineHeight: spec.axisTitleLH };

    const decor = {
      id: "decor",
      afterDatasetsDraw(chart: any) {
        const ctx: CanvasRenderingContext2D = chart.ctx;
        const a = chart.chartArea;
        ctx.save();
        ctx.strokeStyle = "#000";
        ctx.lineWidth = 2;
        ctx.strokeRect(a.left, a.top, a.right - a.left, a.bottom - a.top);
        ctx.fillStyle = "#000";
        ctx.textBaseline = "middle";
        ctx.textAlign = "center";
        ctx.font = `bold ${spec.titleSize}px ${FONT}`;
        ctx.fillText(spec.title, spec.titleX - canvasLeft, spec.titleY - spec.canvasTop);
        if (spec.eq && spec.r) {
          ctx.textAlign = "left";
          ctx.font = `bold 25px ${FONT}`;
          ctx.fillText(spec.eq, a.left + 6, a.top + 21);
          ctx.font = `italic bold 25px ${FONT}`;
          const rx = a.left + 50;
          ctx.fillText("R", rx, a.top + 51);
          const rw = ctx.measureText("R").width;
          ctx.font = `bold 25px ${FONT}`;
          ctx.fillText(" = " + spec.r, rx + rw, a.top + 51);
        }
        ctx.restore();
      },
    };

    const datasets: any[] = [
      {
        data: toXY(spec.points),
        pointRadius: 8,
        pointHoverRadius: 8,
        backgroundColor: BLUE,
        borderColor: "#000",
        borderWidth: 1.5,
        showLine: false,
        clip: false,
        order: 0,
      },
      ...spec.lines.map((l) => ({
        data: toXY(l.data),
        showLine: true,
        borderColor: l.color,
        borderWidth: l.width,
        borderDash: l.dash,
        pointRadius: 0,
        pointHoverRadius: 0,
        fill: false,
        tension: 0,
        clip: false,
        order: 1,
      })),
    ];

    const chart = new Chart(canvas, {
      type: "scatter",
      data: { datasets },
      options: {
        responsive: false,
        animation: false,
        devicePixelRatio: 1,
        events: [],
        layout: { padding: { top: spec.plotTop - spec.canvasTop, right: RIGHT_PAD, bottom: 0, left: 0 } },
        plugins: { legend: { display: false }, title: { display: false }, tooltip: { enabled: false } },
        scales: {
          x: {
            type: "linear",
            min: 0,
            max: 10,
            grid: { display: false, drawTicks: false },
            border: { display: false },
            ticks: { stepSize: 2, font: tickFont, color: "#000", padding: spec.xTickPad, maxRotation: 0, autoSkip: false },
            title: { display: true, text: spec.xTitle, font: axisTitleFont, color: "#000", padding: { top: 0, bottom: 0 } },
            afterFit: (s: any) => { s.height = xAxisH; },
          },
          y: {
            type: "linear",
            min: spec.yMin,
            max: spec.yMax,
            grid: { display: false, drawTicks: false },
            border: { display: false },
            ticks: { stepSize: 2, font: tickFont, color: "#000", padding: spec.yTickPad, autoSkip: false },
            title: { display: true, text: spec.yTitle, font: axisTitleFont, color: "#000", padding: { top: spec.yTitlePad, bottom: 0 } },
            afterFit: (s: any) => { s.width = Y_AXIS_W; },
          },
        },
      } as any,
      plugins: [decor],
    });
    return () => chart.destroy();
  }, [spec]);

  return (
    <canvas
      ref={ref}
      width={width}
      height={height}
      style={{ position: "absolute", left: canvasLeft, top: spec.canvasTop, width, height }}
    />
  );
}

export default function App() {
  return (
    <div style={{ position: "absolute", left: 0, top: 0, width: 1800, height: 1183, background: "#fff", overflow: "hidden" }}>
      {specs.map((s, i) => (
        <Panel key={i} spec={s} />
      ))}
    </div>
  );
}
